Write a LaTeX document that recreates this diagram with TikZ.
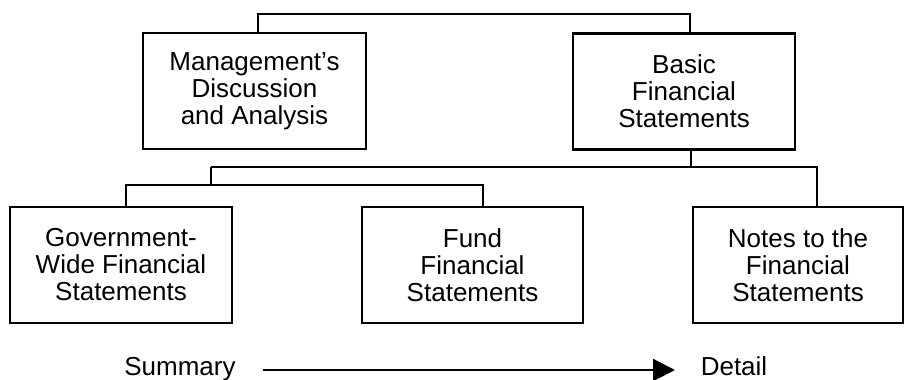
\documentclass[tikz,border=0pt]{standalone}
\usepackage{fontspec}
\setmainfont{Liberation Sans}
\usetikzlibrary{arrows.meta}
\newcommand\boxfont{\fontsize{26}{27}\selectfont}
\tikzset{
  box/.style={draw, line width=2.2pt, minimum height=116pt, align=center, inner sep=0pt, font=\boxfont},
  conn/.style={line width=2.2pt},
  lbl/.style={anchor=base, inner sep=0pt, font=\boxfont},
}
\begin{document}
\begin{tikzpicture}[x=1pt,y=-1pt]
\useasboundingbox (0,0) rectangle (905,380);
\node[box, minimum width=223pt] (mda) at (254.5,91) {Management's\\Discussion\\and Analysis};
\node[box, minimum width=222pt] (bfs) at (684,91.5) {Basic\\Financial\\Statements};
\node[box, minimum width=222pt] (gov) at (121,265) {Government-\\Wide Financial\\Statements};
\node[box, minimum width=221pt] (fund) at (472.5,265) {Fund\\Financial\\Statements};
\node[box, minimum width=210pt] (notes) at (798,265) {Notes to the\\Financial\\Statements};
\coordinate (t1) at (258,14);
\coordinate (t2) at (690,14);
\coordinate (mb) at (691,167);
\coordinate (ml) at (211,167);
\coordinate (mr) at (817,167);
\coordinate (l1) at (211,185);
\coordinate (l0) at (126,185);
\coordinate (l2) at (483,185);
\draw[conn] (t1 |- mda.north) -- (t1) -- (t2) -- (t2 |- bfs.north);
\draw[conn] (mb |- bfs.south) -- (mb);
\draw[conn] (ml) -- (mr) -- (mr |- notes.north);
\draw[conn] (ml) -- (l1);
\draw[conn] (l0 |- gov.north) -- (l0) -- (l2) -- (l2 |- fund.north);
\node[lbl] (sum) at (180,375) {Summary};
\node[lbl] (det) at (734,375) {Detail};
\coordinate (a0) at (263,370);
\coordinate (a1) at (675,370);
\draw[conn, -{Triangle[length=22pt,width=22pt]}] (a0) -- (a1);
\end{tikzpicture}
\end{document}
